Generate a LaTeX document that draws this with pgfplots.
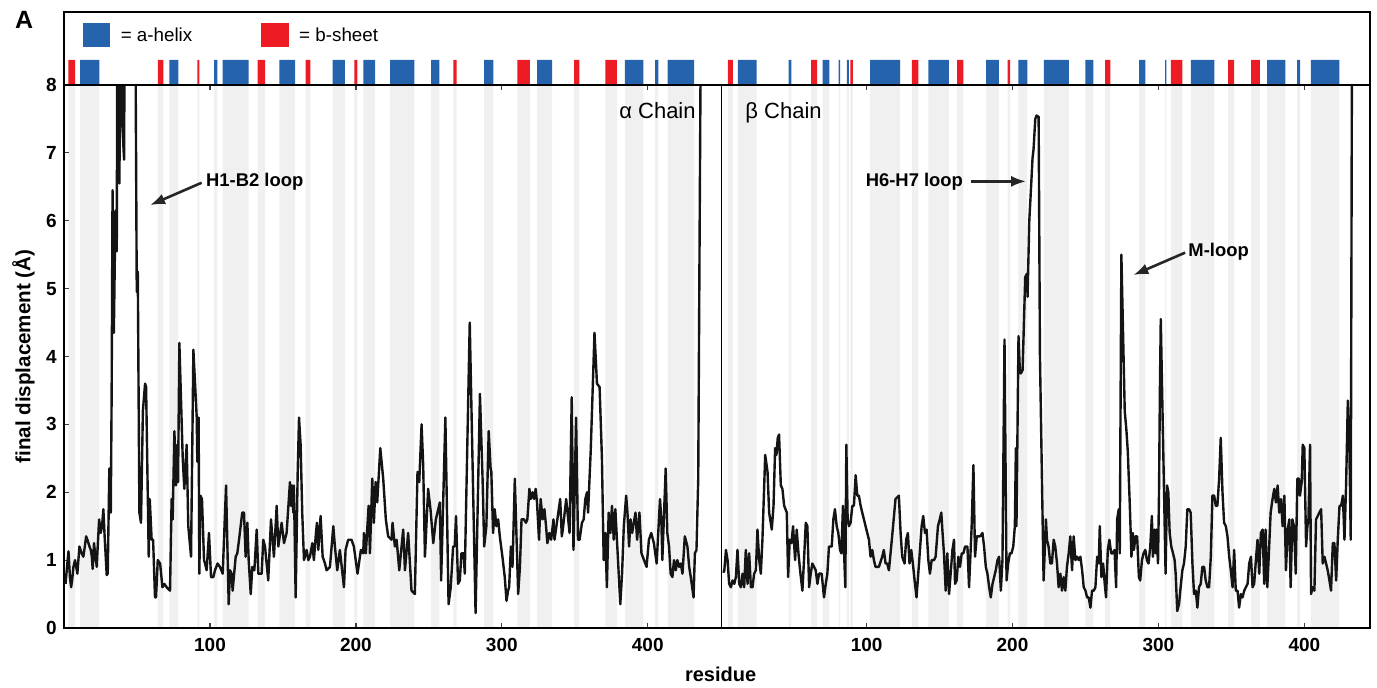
\documentclass[border=0pt]{standalone}
\usepackage{fontspec}
\setmainfont{Liberation Sans}
\usepackage{pgfplots}
\usepackage{pgfplotstable}
\pgfplotsset{compat=1.18}
\usetikzlibrary{arrows.meta}
\definecolor{helixblue}{RGB}{37,99,173}
\definecolor{sheetred}{RGB}{237,28,36}
\definecolor{bandgray}{RGB}{240,240,240}

% secondary structure elements (combined residue axis; beta chain offset by 450)
\pgfplotstableread{
x h
10.9 1
24.1 0
72.1 1
78.3 0
102.9 1
105.0 0
108.7 1
126.5 0
147.5 1
158.3 0
184.1 1
192.5 0
205.1 1
213.1 0
223.4 1
240.0 0
251.5 1
257.2 0
287.8 1
294.2 0
324.1 1
334.4 0
384.4 1
397.0 0
405.0 1
407.3 0
413.7 1
431.7 0
461.7 1
474.7 0
496.6 1
498.4 0
519.9 1
524.5 0
530.9 1
531.8 0
536.4 1
537.8 0
552.4 1
572.9 0
592.3 1
606.3 0
631.9 1
640.6 0
654.0 1
660.2 0
671.4 1
688.6 0
699.9 1
705.4 0
736.7 1
741.1 0
754.6 1
755.5 0
772.2 1
788.4 0
824.5 1
837.0 0
845.0 1
847.1 0
854.4 1
874.0 0
}\helix

\pgfplotstableread{
x h
2.9 1
7.5 0
64.2 1
68.0 0
91.3 1
92.7 0
132.7 1
137.7 0
165.6 1
168.7 0
198.9 1
201.0 0
266.8 1
269.1 0
310.6 1
319.3 0
349.5 1
353.1 0
370.9 1
378.8 0
455.0 1
458.3 0
511.9 1
516.0 0
538.9 1
540.5 0
581.0 1
585.5 0
612.0 1
616.3 0
646.7 1
648.3 0
713.4 1
717.1 0
758.5 1
766.4 0
797.7 1
801.8 0
813.5 1
819.5 0
}\sheet

\pgfplotstableread{
x y
1 0.65
2 0.9
3 1.13
4 0.75
4.8 0.6
5.5 0.7
6.4 0.9
7.5 1.0
8.3 0.9
9.1 0.8
10.5 1.2
11.3 1.15
12.1 1.1
13.2 1.05
14.2 1.2
15.1 1.35
16 1.3
17.4 1.2
18.3 1.15
19 1.05
19.6 0.87
20.5 1.25
21.5 1.05
22.4 0.9
22.8 1.1
24 1.6
25.1 1.4
26 1.5
26.9 1.75
27.9 1.3
29.2 0.78
29.9 0.8
31 2.35
32 1.7
32.6 3.5
33.2 6.45
34.1 4.35
35.2 6.15
36.1 5.55
36.5 9.5
37.9 6.55
38.8 9.5
39.7 7.5
41.1 6.9
41.8 10
45 11
48.6 10
49.8 4.95
50.5 5.25
51.6 1.7
52.7 1.55
54 3.2
55.5 3.6
56.2 3.55
58 1.05
58.7 1.9
60 1.3
61 1.3
62.3 0.45
63 0.45
64.2 1.0
65.8 0.95
67.4 0.6
68.7 0.65
70.3 0.6
72.6 0.55
73.7 1.9
74.4 1.6
75.6 2.9
76.7 2.1
77.6 2.7
78.1 2.15
79 4.2
81.3 2.5
82.4 2.05
84 2.7
85.1 1.5
87 1.05
88.6 4.1
90.9 3.1
91.3 2.45
92.2 3.1
92.7 0.8
93.4 1.95
94.5 1.9
95.9 1.0
96.6 0.95
97.7 0.85
99.3 1.4
100.7 0.75
102.3 0.75
103.4 0.85
105.2 0.95
106.8 0.9
108.7 0.8
111 2.1
112.8 0.35
113.7 0.85
114.8 0.8
115.5 0.55
117.6 1.05
118.7 1.1
119.9 1.3
122.1 1.7
123.3 1.7
124.4 1.05
125.6 1.55
126.5 1.0
127.9 0.5
129 0.9
130.4 0.85
132 1.45
133.1 0.8
135.4 0.8
136.5 1.3
137.7 1.2
139.9 0.7
141.8 1.6
143.8 1.05
145.7 1.8
146.8 1.2
149.1 1.55
150.7 1.25
152.5 1.4
154.8 2.15
155.5 1.8
156.2 2.1
157.1 1.7
157.5 2.1
158.7 0.45
160.1 2.3
161 3.1
162.1 2.7
163.2 1.7
164.4 1.0
166.2 1.15
167.4 1.0
168.5 1.05
170.1 1.25
171.2 1.0
172.6 1.4
173.3 1.55
174.2 1.15
175.8 1.65
177.2 1.05
178.8 0.95
179.9 0.85
182.2 0.9
184.5 1.5
185.6 1.2
187.2 0.85
189 1.15
191.8 0.6
192.9 1.15
194.7 1.3
197 1.3
198.6 1.2
201.1 0.8
203.4 1.15
205 1.1
205.5 1.4
206.8 1.1
208.7 1.8
209.6 1.1
211.2 2.2
212.3 1.55
213.5 2.15
214.6 1.85
216.7 2.65
218.7 2.2
220.5 1.6
222.1 1.35
224.4 1.3
225.1 1.55
226.7 1.2
227.9 1.3
229.7 0.85
232.4 1.45
233.6 0.85
235.8 1.4
238.1 0.55
240.4 0.5
242.2 2.3
243.4 2.15
245 3.0
246.1 2.4
247.3 1.05
249.5 2.05
251.1 1.75
253 1.25
254.8 1.6
257.5 1.85
258.4 0.7
261.3 3.1
263.5 0.35
265.0 0.6
266.6 1.2
267.7 1.2
268.6 1.65
270.0 0.65
271.2 0.7
272.3 1.1
273.8 1.1
274.6 0.8
278 4.5
282 0.22
285 3.45
286.8 2.2
287.9 1.2
289.4 1.5
291 2.9
292.3 2.35
292.8 2.3
294 1.4
295.1 1.75
296.3 1.5
297.5 1.6
298.6 1.35
300.4 1.05
302.0 0.75
303.2 0.4
304.3 0.55
305.0 0.6
306.2 1.2
307.3 0.9
308.9 2.2
311.2 0.5
312.4 0.9
313.5 1.6
315.2 1.6
316.5 1.55
317.5 1.6
318.9 2.05
319.8 1.9
321.1 2.0
322.1 1.9
323.2 2.05
324.1 1.85
325.5 1.3
326.6 1.9
328.0 1.6
329.2 1.75
330.3 1.5
331.2 1.25
332.6 1.4
333.8 1.3
335.4 1.6
336.1 1.3
340.0 1.9
341.1 1.35
341.8 1.45
344.1 1.9
346.4 1.4
347.9 3.4
349.1 1.15
350.9 3.1
352.2 1.3
353.3 1.3
354.9 1.55
356.1 1.6
357.2 1.9
358.4 2.0
359.1 1.7
360.9 2.6
363.5 4.35
365.2 3.6
367.0 3.55
368.6 2.5
369.8 1.0
370.9 1.4
372.0 0.6
373.2 1.7
374.4 1.4
375.5 1.8
376.7 1.3
377.8 1.75
380.1 0.8
381.2 0.35
382.4 0.8
383.6 1.5
385.2 1.95
386.1 1.7
387.2 1.2
388.2 1.6
389.3 1.4
391.6 1.7
392.7 1.3
394.3 1.7
395.7 1.1
399.2 0.9
400.8 1.3
402.4 1.4
404.2 1.25
406.1 0.95
408.4 1.9
409.3 1.6
410.0 1.0
412.3 2.35
413.4 1.4
414.6 1.2
415.7 0.8
416.9 0.75
418.0 1.0
419.2 0.85
420.3 1.0
421.5 0.9
422.6 0.95
423.8 0.8
425.4 1.35
427.2 1.2
428.4 0.9
429.5 0.75
431.4 0.45
432.3 1.1
433.4 1.15
434.6 2.2
435.1 4.1
436.4 9
437.8 10
}\alphachain

\pgfplotstableread{
x y
451.3 0.83
452.4 0.83
453.6 1.15
454.7 1.0
455.8 0.65
457.0 0.6
458.1 0.7
459.3 0.65
460.4 0.75
461.5 1.15
462.7 0.65
463.8 0.6
465.0 0.8
466.1 0.6
467.2 1.15
468.4 0.65
469.5 1.1
470.7 0.6
471.8 0.6
472.9 0.8
474.1 0.85
475.2 1.45
476.4 1.0
477.5 0.8
478.6 1.3
480.5 2.55
482.1 2.3
483.2 1.7
485.0 1.45
486.2 1.8
487.3 2.65
488.2 2.55
489.1 2.8
490.0 2.85
491.2 2.1
492.3 2.05
493.5 1.8
495.3 1.7
496.2 0.75
497.3 1.3
498.5 1.25
499.6 1.5
501.0 1.0
502.1 1.45
503.3 1.1
504.4 0.85
506.0 0.55
507.1 1.0
508.3 1.55
509.4 1.5
510.6 0.6
511.7 0.8
512.8 0.95
514.0 0.9
515.1 0.85
516.3 0.65
517.4 0.8
519.2 0.8
520.8 0.45
522.0 0.65
523.1 0.8
524.2 1.2
526.1 1.2
527.2 1.6
528.3 1.75
529.5 1.5
530.6 1.4
531.8 1.15
532.7 1.1
533.8 1.8
534.5 1.15
535.4 0.6
536.1 2.7
537.0 1.6
537.9 1.5
539.0 1.55
540.2 1.8
541.3 1.8
542.5 2.25
543.6 1.95
544.7 1.95
545.9 1.8
547.0 1.7
549.3 1.5
551.6 1.3
552.7 1.05
553.9 1.15
555.0 1.0
556.1 0.9
557.3 0.9
558.4 0.9
560.7 1.05
561.8 1.15
563.0 0.95
564.1 0.95
565.3 0.85
566.4 1.1
567.5 1.35
569.8 1.9
572.1 1.95
573.3 1.4
574.4 1.05
576.0 0.95
577.1 1.3
578.3 1.4
579.4 0.95
580.6 1.15
581.7 0.95
582.9 0.7
584.2 0.45
585.9 0.95
587.7 1.5
588.8 1.65
590.0 1.4
591.1 1.45
592.3 1.0
593.4 0.8
594.6 1.0
596.2 1.0
597.3 1.05
598.9 1.5
600.1 1.6
601.2 1.7
601.9 1.45
603.0 1.1
604.2 0.55
605.3 1.1
606.5 0.5
607.6 0.8
608.8 1.15
609.9 1.3
610.6 0.65
611.7 0.7
612.9 1.05
614.0 0.9
615.2 1.1
616.3 1.1
617.5 1.2
619.1 1.2
620.2 0.6
622.0 1.5
623.2 2.4
624.3 1.05
625.5 1.35
626.6 1.35
627.8 1.35
629.4 1.4
630.5 1.2
631.7 0.9
632.8 0.8
634.0 0.6
635.1 0.45
636.3 0.65
637.4 0.75
638.5 0.85
639.7 1.0
640.8 1.05
642.0 0.55
643.1 1.0
644.5 4.25
645.9 0.7
647.0 0.95
648.2 1.1
649.3 1.1
650.5 1.2
651.6 1.5
652.3 2.65
652.7 1.5
654.1 4.3
655.0 3.8
655.7 3.75
656.9 3.8
658.7 5.17
659.9 5.22
660.3 4.88
661.5 6.0
662.6 6.45
663.7 6.92
664.4 7.05
665.6 7.5
666.5 7.55
667.9 7.53
668.8 4.0
671.3 0.7
672.9 1.6
673.6 1.3
674.7 1.2
675.9 0.95
677.0 0.95
678.2 1.3
679.3 1.2
680.5 0.95
681.6 0.6
682.8 0.8
683.9 0.55
685.1 0.75
686.2 0.55
687.3 0.9
688.5 1.1
689.6 1.35
690.8 0.85
691.9 1.35
693.1 1.0
694.2 1.05
695.4 1.0
696.5 1.05
697.7 0.85
698.8 0.6
700.0 0.55
701.1 0.45
702.2 0.45
703.4 0.3
704.5 0.55
705.7 0.55
706.8 0.6
708.0 1.05
709.1 0.95
709.8 1.5
710.9 0.75
712.1 0.95
713.2 0.65
714.1 0.45
715.3 1.15
716.4 1.3
717.6 1.1
718.7 1.1
719.9 1.15
721.0 0.6
721.7 1.6
722.8 1.75
723.5 1.1
724.6 5.5
726.9 3.2
728.1 2.9
729.0 2.6
730.4 1.8
731.5 1.05
732.5 1.4
733.2 1.15
734.3 1.35
735.4 1.35
736.6 0.75
737.5 0.7
738.7 1.0
739.8 1.1
741.0 1.15
742.1 1.0
743.2 0.95
744.4 1.2
745.5 1.65
746.2 1.05
747.4 1.45
748.1 1.1
748.7 1.45
749.7 0.95
750.4 2.0
751.0 3.5
751.6 4.55
754.9 0.8
755.9 2.1
756.8 2.0
757.7 1.4
758.8 1.2
760.0 1.1
761.1 1.0
761.8 0.8
762.9 0.25
764.1 0.35
765.2 0.6
766.4 0.85
767.5 0.95
768.7 1.2
769.8 1.75
771.0 1.75
772.1 1.7
773.3 0.95
774.4 0.5
775.6 0.55
776.7 0.3
777.8 0.6
779.0 0.65
780.1 0.9
781.3 0.9
782.4 0.7
783.6 0.6
784.7 0.6
785.9 1.05
787.0 1.95
788.2 1.95
789.3 1.8
790.4 1.8
791.6 2.2
792.7 2.8
793.9 2.0
795.0 1.55
796.2 1.5
797.3 1.35
798.5 1.05
799.6 0.85
800.8 0.6
801.9 1.15
803.0 0.55
804.2 0.55
805.3 0.3
806.5 0.5
807.6 0.45
808.8 0.55
809.9 0.6
811.1 0.65
812.2 0.95
813.4 1.05
814.5 0.6
815.6 0.65
816.8 1.0
817.9 1.3
819.1 0.8
820.2 1.4
821.4 1.45
822.5 0.65
823.4 1.45
824.6 0.6
825.7 1.1
826.9 1.7
828.2 1.9
829.4 2.05
830.5 1.85
831.7 2.1
832.8 1.7
834.0 1.9
835.1 1.5
836.3 1.95
837.4 0.85
838.6 1.45
839.7 1.6
840.6 0.6
841.8 1.6
842.9 1.5
844.1 0.8
845.2 2.2
846.3 2.2
847.0 1.95
848.2 2.15
848.9 2.7
850.0 2.65
851.2 1.2
852.1 1.5
852.8 1.6
853.9 2.7
854.6 0.5
855.7 0.6
856.9 0.55
858.0 1.6
859.2 1.65
860.3 1.7
861.5 1.75
862.6 0.95
863.8 1.05
864.9 0.95
866.0 0.85
867.2 0.7
868.3 0.55
869.5 1.25
870.6 1.25
871.8 0.7
872.9 1.3
874.1 1.8
875.2 1.8
876.4 1.95
877.5 1.3
878.6 2.1
879.8 3.35
880.9 2.6
881.8 1.3
882.8 10
}\betachain

\begin{document}
\begin{tikzpicture}
\useasboundingbox (-32.05pt,-30pt) rectangle (656.45pt,314pt);

% background bands
\begin{axis}[
  at={(0pt,0pt)}, anchor=south west,
  scale only axis, width=652.95pt, height=271.5pt,
  xmin=0, xmax=895, ymin=0, ymax=1,
  hide axis,
]
\addplot[const plot, fill=bandgray, draw=none] table[x=x, y=h] {\helix} \closedcycle;
\addplot[const plot, fill=bandgray, draw=none] table[x=x, y=h] {\sheet} \closedcycle;
\end{axis}

% main axis
\begin{axis}[
  at={(0pt,0pt)}, anchor=south west,
  scale only axis, width=652.95pt, height=271.5pt,
  xmin=0, xmax=895, ymin=0, ymax=8,
  xtick={100,200,300,400,550,650,750,850},
  xticklabels={100,200,300,400,100,200,300,400},
  ytick={0,1,2,3,4,5,6,7,8},
  tick align=inside, xtick pos=both, ytick pos=left,
  major tick length=2.5pt,
  tick style={line width=0.6pt, black!75},
  axis line style={line width=0.9pt},
  /pgf/number format/assume math mode=true,
  ticklabel style={font=\bfseries\fontsize{9.5}{10}\selectfont},
  xticklabel style={inner sep=0pt, anchor=center, yshift=-8.5pt},
  yticklabel style={inner sep=0pt, anchor=east, xshift=-3.5pt},
  xlabel={residue},
  ylabel={final displacement (Å)},
  every axis x label/.style={at={(axis description cs:0.5027,-0.0847)}, anchor=center, font=\bfseries\fontsize{10}{12}\selectfont},
  every axis y label/.style={at={(axis description cs:-0.0311,0.5)}, rotate=90, anchor=center, font=\bfseries\fontsize{10.3}{12}\selectfont},
]
\addplot[black!92, line width=1.2pt, line join=round] table[x=x, y=y] {\alphachain};
\addplot[black!92, line width=1.2pt, line join=round] table[x=x, y=y] {\betachain};
\addplot[black, line width=0.9pt] coordinates {(450.5,0) (450.5,8)};

\node[anchor=base east, inner sep=0pt, font=\fontsize{11}{12}\selectfont] at (axis cs:433.1,7.50) {α Chain};
\node[anchor=base west, inner sep=0pt, font=\fontsize{11}{12}\selectfont] at (axis cs:466.7,7.50) {β Chain};

\node[anchor=base west, inner sep=0pt, font=\bfseries\fontsize{9.2}{10}\selectfont] at (axis cs:97.1,6.51) {H1-B2 loop};
\draw[-{Latex[length=7.5pt,width=5.5pt]}, line width=1.3pt, black!85] (axis cs:94.3,6.56) -- (axis cs:58.9,6.23);

\node[anchor=base east, inner sep=0pt, font=\bfseries\fontsize{9.2}{10}\selectfont] at (axis cs:616.3,6.51) {H6-H7 loop};
\draw[-{Latex[length=7.5pt,width=5.5pt]}, line width=1.3pt, black!85] (axis cs:621.6,6.58) -- (axis cs:659.3,6.58);

\node[anchor=base west, inner sep=0pt, font=\bfseries\fontsize{9.2}{10}\selectfont] at (axis cs:770.3,5.47) {M-loop};
\draw[-{Latex[length=7.5pt,width=5.5pt]}, line width=1.3pt, black!85] (axis cs:768.3,5.53) -- (axis cs:732.8,5.20);
\end{axis}

% secondary structure strip
\begin{axis}[
  at={(0pt,271.5pt)}, anchor=south west,
  scale only axis, width=652.95pt, height=36.5pt,
  xmin=0, xmax=895, ymin=0, ymax=2.92,
  ticks=none, axis on top,
  axis line style={line width=0.8pt},
  legend style={at={(axis description cs:0.0142,0.685)}, anchor=west,
    draw=none, fill=none, inner sep=0pt, outer sep=0pt,
    legend columns=2, font=\fontsize{9.4}{11}\selectfont,
    nodes={inner sep=0pt},
    /tikz/every odd column/.append style={column sep=5.35pt},
    /tikz/every even column/.append style={column sep=34.4pt}},
]
\addplot[const plot, fill=helixblue, draw=none, forget plot] table[x=x, y=h] {\helix} \closedcycle;
\addplot[const plot, fill=sheetred, draw=none, forget plot] table[x=x, y=h] {\sheet} \closedcycle;
\addlegendimage{legend image code/.code={\fill[helixblue] (0pt,-5.45pt) rectangle (13.3pt,6.25pt);}}
\addlegendentry{= a-helix}
\addlegendimage{legend image code/.code={\fill[sheetred] (0pt,-5.45pt) rectangle (13.3pt,6.25pt);}}
\addlegendentry{= b-sheet}
\end{axis}

\node[font=\bfseries\fontsize{12.5}{13}\selectfont] at (-20pt,304pt) {A};
\end{tikzpicture}
\end{document}
